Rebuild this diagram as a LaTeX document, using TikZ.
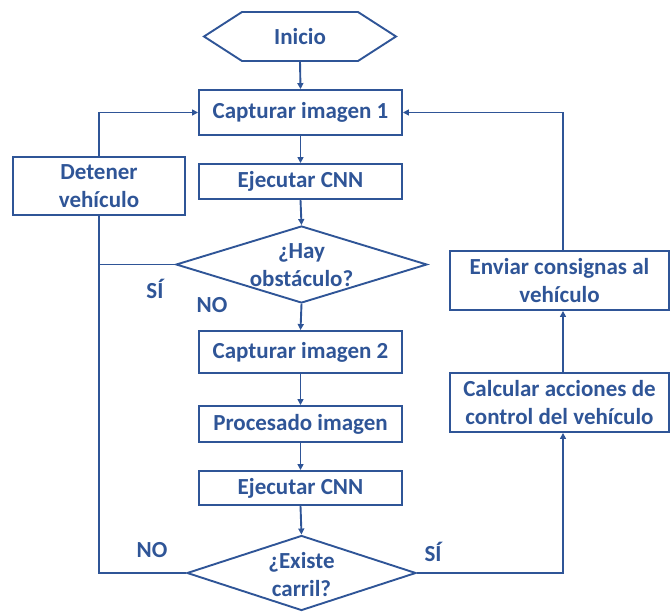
\documentclass[tikz,border=0pt]{standalone}
\usepackage{fontspec}
\setmainfont{Carlito}
\usetikzlibrary{shapes.geometric,arrows.meta}
\definecolor{flowblue}{HTML}{2F5597}
\begin{document}
\begin{tikzpicture}[x=1pt,y=-1pt,
  every node/.style={text=flowblue,font=\fontsize{23}{28}\selectfont\bfseries,align=center},
  procbox/.style={draw=flowblue,line width=1.9pt,rectangle,inner sep=0pt},
  decision/.style={draw=flowblue,line width=1.9pt,diamond,inner sep=0pt},
  link/.style={draw=flowblue,line width=1.9pt},
  arrowlink/.style={link,-{Triangle[length=6pt,width=6pt]}},
  branch/.style={font=\fontsize{23}{27}\selectfont\bfseries}]
\useasboundingbox (0,0) rectangle (670,612);

% start terminal (hexagon)
\draw[link] (204,36.5) -- (242,12) -- (358,12) -- (396,36.5) -- (358,61) -- (242,61) -- cycle;
\node[minimum width=192pt,minimum height=49pt,inner sep=0pt] (inicio) at (300,36.5) {Inicio};

% main column
\node[procbox,minimum width=203pt,minimum height=45pt] (cap1) at (300.5,112.5) {Capturar imagen 1};
\node[procbox,minimum width=203pt,minimum height=35pt] (cnn1) at (300.5,181.5) {Ejecutar CNN};
\node[decision,minimum width=251pt,minimum height=77pt] (obs) at (301.5,264.5) {};
\node (obstxt) at (301.5,265) {¿Hay\\obstáculo?};
\node[procbox,minimum width=203pt,minimum height=42pt] (cap2) at (300.5,352) {Capturar imagen 2};
\node[procbox,minimum width=203pt,minimum height=36pt] (proc) at (300.5,424) {Procesado imagen};
\node[procbox,minimum width=203pt,minimum height=34pt] (cnn2) at (300.5,488) {Ejecutar CNN};
\node[decision,minimum width=229pt,minimum height=75pt] (lane) at (301.5,573) {};
\node (lanetxt) at (301.5,575) {¿Existe\\carril?};

% side boxes
\node[procbox,minimum width=172pt,minimum height=58pt] (stop) at (99,186) {Detener\\vehículo};
\node[procbox,minimum width=219pt,minimum height=59pt] (send) at (559.5,280.5) {Enviar consignas al\\vehículo};
\node[procbox,minimum width=219pt,minimum height=59pt] (calc) at (559.5,402.5) {Calcular acciones de\\control del vehículo};

% routing points
\coordinate (obsjoin) at (99,264.5);
\coordinate (lanejoin) at (99,573);
\coordinate (lanecorner) at (563,573);
\coordinate (calcin) at ([xshift=3.5pt]calc.south);
\coordinate (calcout) at ([xshift=3.5pt]calc.north);
\coordinate (sendin) at ([xshift=3.5pt]send.south);
\coordinate (sendout) at ([xshift=3.5pt]send.north);
\coordinate (returncorner) at (563,112.5);

% main flow
\draw[arrowlink] (inicio.south) -- (cap1.north);
\draw[arrowlink] (cap1.south) -- (cnn1.north);
\draw[arrowlink] (cnn1.south) -- (obs.north);
\draw[arrowlink] (obs.south) -- (cap2.north);
\draw[arrowlink] (cap2.south) -- (proc.north);
\draw[arrowlink] (proc.south) -- (cnn2.north);
\draw[arrowlink] (cnn2.south) -- (lane.north);

% stop branch
\draw[link] (obs.west) -- (obsjoin);
\draw[link] (stop.south) -- (lanejoin) -- (lane.west);
\draw[arrowlink] (stop.north) |- (cap1.west);

% control branch
\draw[arrowlink] (lane.east) -- (lanecorner) -- (calcin);
\draw[arrowlink] (calcout) -- (sendin);
\draw[arrowlink] (sendout) -- (returncorner) -- (cap1.east);

% branch labels
\node[branch] (siobs) at (155,289) {SÍ};
\node[branch] (noobs) at (212,305) {NO};
\node[branch] (nolane) at (152,550) {NO};
\node[branch] (silane) at (433,552) {SÍ};
\end{tikzpicture}
\end{document}
